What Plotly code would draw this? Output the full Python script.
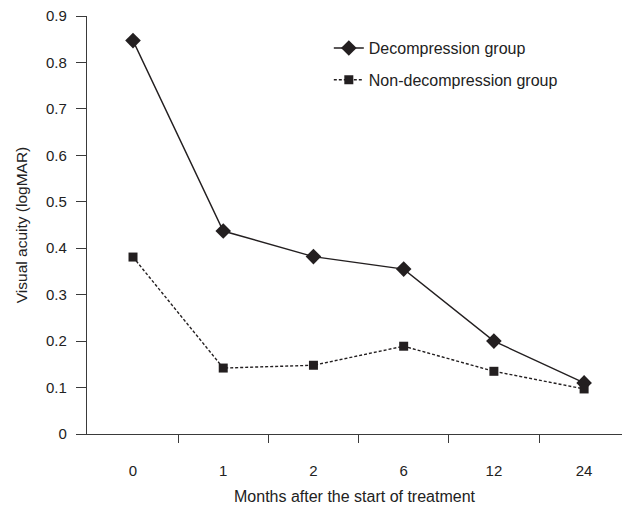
import plotly.graph_objects as go

categories = ["0", "1", "2", "6", "12", "24"]
decompression = [0.847, 0.437, 0.382, 0.355, 0.200, 0.110]
non_decompression = [0.381, 0.142, 0.148, 0.189, 0.135, 0.097]
y_ticks = [0, 0.1, 0.2, 0.3, 0.4, 0.5, 0.6, 0.7, 0.8, 0.9]
y_tick_labels = ["0", "0.1", "0.2", "0.3", "0.4", "0.5", "0.6", "0.7", "0.8", "0.9"]

xpos = list(range(len(categories)))
ink = "#231f20"
axis_col = "#3a3a3a"

fig = go.Figure()
fig.add_trace(go.Scatter(
    x=xpos, y=decompression, mode="lines+markers", name="Decompression group",
    line=dict(color=ink, width=1.4),
    marker=dict(symbol="diamond", size=12, color=ink),
    legendgroup="a",
))
fig.add_trace(go.Scatter(
    x=xpos, y=non_decompression, mode="lines+markers", name="Non-decompression group",
    line=dict(color=ink, width=1.4, dash="3px,2px"),
    marker=dict(symbol="square", size=9, color=ink),
    legendgroup="b",
))

fig.update_layout(
    width=622, height=508,
    margin=dict(l=87, r=0, t=16, b=74),
    paper_bgcolor="white", plot_bgcolor="white",
    font=dict(family="Liberation Sans, Arial, sans-serif", size=15, color="#222222"),
    showlegend=True,
    legend=dict(
        x=0.452, y=0.964, xanchor="left", yanchor="top",
        font=dict(size=16, color="#222222"),
        tracegroupgap=8, itemwidth=30,
        bgcolor="rgba(0,0,0,0)",
    ),
    xaxis=dict(
        range=[-0.51, 5.42],
        tickmode="array", tickvals=xpos, ticktext=categories,
        tickfont=dict(size=15),
        ticks="", showgrid=False, zeroline=False,
        showline=True, linecolor=axis_col, linewidth=1.3,
        ticklabelstandoff=23,
        minor=dict(tickmode="array", tickvals=[0.5, 1.5, 2.5, 3.5, 4.5],
                   ticks="outside", ticklen=8, tickwidth=1.3, tickcolor=axis_col,
                   showgrid=False),
        title=dict(text="Months after the start of treatment", font=dict(size=16), standoff=12),
        fixedrange=True,
    ),
    yaxis=dict(
        range=[0, 0.9],
        tickmode="array", tickvals=y_ticks, ticktext=y_tick_labels,
        tickfont=dict(size=15),
        ticks="outside", ticklen=10, tickwidth=1.3, tickcolor=axis_col,
        showgrid=False, zeroline=False,
        showline=True, linecolor=axis_col, linewidth=1.3,
        ticklabelstandoff=6,
        title=dict(text="Visual acuity (logMAR)", font=dict(size=15.5), standoff=14),
        fixedrange=True,
    ),
)

fig.write_html("out.html")
